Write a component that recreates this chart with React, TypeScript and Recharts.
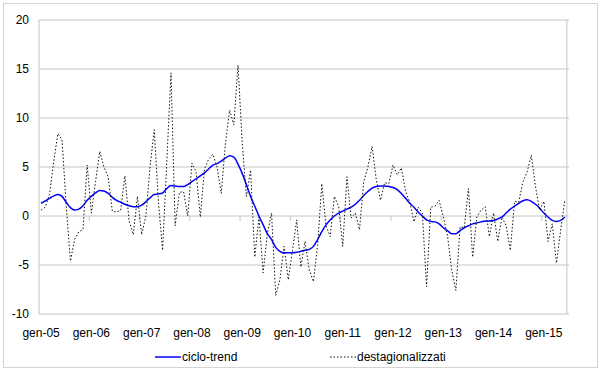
import React from 'react';
import { LineChart, Line, XAxis, YAxis, CartesianGrid, ReferenceLine, Legend } from 'recharts';

const FONT = '"Liberation Sans", Arial, sans-serif';

const yearLabels = ['gen-05', 'gen-06', 'gen-07', 'gen-08', 'gen-09', 'gen-10', 'gen-11', 'gen-12', 'gen-13', 'gen-14', 'gen-15'];

const yTicks = [-10, -5, 0, 5, 10, 15, 20];

const cicloTrend = [
  1.3, 1.55, 1.8, 2.05, 2.2, 2.0, 1.4, 0.85, 0.6, 0.7, 1.05, 1.6,
  2.0, 2.35, 2.6, 2.55, 2.3, 1.9, 1.6, 1.4, 1.2, 1.05, 0.95, 0.95,
  1.1, 1.45, 1.85, 2.2, 2.25, 2.35, 2.8, 3.1, 3.05, 3.0, 3.0, 3.2,
  3.5, 3.8, 4.1, 4.4, 4.8, 5.2, 5.35, 5.6, 5.9, 6.15, 6.0, 5.3,
  4.35, 3.2, 2.0, 1.0, 0.0, -0.9, -1.8, -2.4, -3.2, -3.6, -3.75, -3.75,
  -3.75, -3.7, -3.6, -3.5, -3.4, -3.1, -2.4, -1.6, -0.9, -0.4, 0.0, 0.3,
  0.5, 0.7, 0.9, 1.2, 1.6, 2.1, 2.5, 2.85, 3.0, 3.05, 3.05, 3.0,
  2.9, 2.7, 2.3, 1.8, 1.3, 0.9, 0.4, 0.0, -0.4, -0.55, -0.6, -0.8,
  -1.2, -1.5, -1.8, -1.8, -1.5, -1.2, -1.0, -0.8, -0.7, -0.6, -0.5, -0.5,
  -0.45, -0.3, -0.1, 0.3, 0.7, 1.0, 1.3, 1.55, 1.65, 1.5, 1.2, 0.8,
  0.3, -0.1, -0.45, -0.55, -0.45, -0.1,
];

const destagionalizzati = [
  0.6, 0.9, 2.2, 5.5, 8.4, 7.8, 1.0, -4.6, -2.4, -1.6, -1.4, 5.2,
  0.3, 3.5, 6.6, 5.0, 4.0, 0.5, 0.4, 0.6, 4.1, -0.5, -1.9, 2.0,
  -1.9, 0.0, 5.0, 8.8, 1.5, -3.5, 5.5, 14.6, -1.0, 2.4, 2.5, 0.0,
  5.4, 4.5, -0.1, 4.8, 5.8, 6.3, 5.0, 2.3, 7.4, 10.8, 9.3, 15.4,
  7.5, 2.0, 4.7, -4.2, -0.1, -5.8, -1.8, 0.3, -8.1, -6.5, -3.1, -6.5,
  -3.5, -0.4, -5.2, -2.6, -5.5, -6.7, -3.0, 3.3, -1.0, -2.1, 2.0, 1.0,
  -3.1, 4.0, -0.2, 0.3, -1.4, 3.5, 5.0, 7.1, 3.7, 1.6, 3.4, 3.3,
  5.2, 4.2, 4.9, 2.5, 1.4, -0.6, 0.9, 0.3, -7.2, 0.9, 1.0, 1.6,
  -0.1, -2.0, -5.5, -7.6, -1.1, -1.2, 2.8, -4.2, -0.1, 0.6, 0.95, -2.1,
  0.3, -2.6, -0.1, -1.0, -3.5, 1.5, 1.4, 3.5, 4.5, 6.2, 3.0, 0.6,
  1.5, -2.6, -0.8, -4.8, -1.5, 1.6,
];

const MONTHS_PER_YEAR = 12;

const data = cicloTrend.map((v, i) => ({ idx: i, trend: v, dest: destagionalizzati[i] }));
const xTicks = yearLabels.map((_, k) => k * MONTHS_PER_YEAR);
const yearBoundaries = yearLabels.slice(1).map((_, k) => (k + 1) * MONTHS_PER_YEAR - 0.5);
const xMin = -0.5;
const xMax = data.length - 0.5;

const GRID = '#c4c4c4';
const DOT_COLOR = '#111';
const DOT_DASH = '1.5 2';

const LegendContent = () => (
  <div style={{ position: 'relative', width: 600, height: 26, fontFamily: FONT, fontSize: 12, color: '#000' }}>
    <svg style={{ position: 'absolute', left: 155, top: 11 }} width={26} height={4}>
      <line x1={0} y1={2} x2={26} y2={2} stroke="#0000ff" strokeWidth={1.5} />
    </svg>
    <span style={{ position: 'absolute', left: 182, top: 6, lineHeight: '14px', whiteSpace: 'nowrap' }}>ciclo-trend</span>
    <svg style={{ position: 'absolute', left: 330, top: 11 }} width={26} height={4}>
      <line x1={0} y1={2} x2={26} y2={2} stroke={DOT_COLOR} strokeWidth={1} strokeDasharray={DOT_DASH} />
    </svg>
    <span style={{ position: 'absolute', left: 357, top: 6, lineHeight: '14px', whiteSpace: 'nowrap' }}>destagionalizzati</span>
  </div>
);

export default function App() {
  return (
    <div style={{ position: 'absolute', left: 0, top: 0, width: 600, height: 370, background: '#fff', fontFamily: FONT }}>
      <div
        style={{
          position: 'absolute',
          left: 3,
          top: 3,
          width: 595,
          height: 365,
          boxSizing: 'border-box',
          border: '1px solid #d4d4d4',
        }}
      />
      <LineChart
        width={600}
        height={370}
        data={data}
        margin={{ top: 20, right: 31, bottom: 0, left: 0 }}
        style={{ position: 'absolute', left: 0, top: 0 }}
      >
        <CartesianGrid horizontal vertical={false} stroke={GRID} strokeWidth={1} />
        <XAxis
          dataKey="idx"
          type="number"
          domain={[xMin, xMax]}
          ticks={xTicks}
          allowDecimals={false}
          tickFormatter={(v: number) => yearLabels[Math.round(v / MONTHS_PER_YEAR)] ?? ''}
          axisLine={false}
          tickLine={false}
          tickSize={0}
          tickMargin={14}
          height={30}
          interval={0}
          tick={{ fontSize: 12, fill: '#000', fontFamily: FONT }}
        />
        <YAxis
          type="number"
          domain={[-10, 20]}
          ticks={yTicks}
          interval={0}
          axisLine={false}
          tickLine={false}
          tickSize={0}
          tickMargin={10}
          width={39}
          tick={{ fontSize: 12, fill: '#000', fontFamily: FONT }}
        />
        <ReferenceLine x={xMin} stroke={GRID} />
        <ReferenceLine x={xMax} stroke={GRID} />
        {yearBoundaries.map((b) => (
          <ReferenceLine key={b} segment={[{ x: b, y: 0 }, { x: b, y: -0.5 }]} stroke={GRID} />
        ))}
        <Line
          dataKey="trend"
          type="monotone"
          stroke="#0000ff"
          strokeWidth={1.5}
          dot={false}
          activeDot={false}
          isAnimationActive={false}
        />
        <Line
          dataKey="dest"
          type="linear"
          stroke={DOT_COLOR}
          strokeWidth={1}
          strokeDasharray={DOT_DASH}
          dot={false}
          activeDot={false}
          isAnimationActive={false}
        />
        <Legend verticalAlign="bottom" height={26} wrapperStyle={{ left: 0, width: 600 }} content={() => <LegendContent />} />
      </LineChart>
    </div>
  );
}
